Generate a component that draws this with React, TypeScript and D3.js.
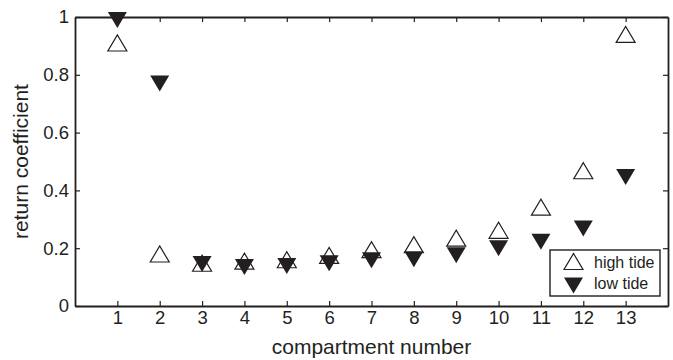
import * as d3 from 'd3';
import { useEffect, useRef } from 'react';

const compartments = [1, 2, 3, 4, 5, 6, 7, 8, 9, 10, 11, 12, 13];
const highTide = [0.91, 0.18, 0.148, 0.155, 0.16, 0.175, 0.195, 0.212, 0.235, 0.262, 0.342, 0.468, 0.94];
const lowTide = [0.99, 0.77, 0.145, 0.135, 0.138, 0.148, 0.158, 0.162, 0.176, 0.2, 0.222, 0.268, 0.446];
const yTicks = [0, 0.2, 0.4, 0.6, 0.8, 1];
const legendLabels = ['high tide', 'low tide'];

const INK = '#231f20';

export default function App() {
  const ref = useRef<SVGSVGElement | null>(null);
  useEffect(() => {
    if (!ref.current) return;
    const svg = d3.select(ref.current);
    svg.selectAll('*').remove();
    const width = 673;
    const height = 360;
    const margin = { top: 17, right: 5, bottom: 54, left: 75 };
    const x0 = margin.left;
    const x1 = width - margin.right;
    const y0 = height - margin.bottom;
    const y1 = margin.top;
    svg.attr('viewBox', `0 0 ${width} ${height}`);

    const x = d3.scaleLinear().domain([0, 14]).range([x0, x1]);
    const y = d3.scaleLinear().domain([0, 1]).range([y0, y1]);

    const font = 'Liberation Sans, Arial, Helvetica, sans-serif';
    const styleAxis = (g: any, labels: boolean) => {
      g.select('.domain').attr('stroke', INK).attr('stroke-width', 1.8);
      g.selectAll('.tick line').attr('stroke', INK).attr('stroke-width', 1.2);
      g.selectAll('.tick text')
        .attr('fill', INK)
        .style('font-family', font)
        .style('font-size', '18.5px')
        .style('display', labels ? null : 'none');
    };

    svg
      .append('g')
      .attr('transform', `translate(0, ${y0})`)
      .call(d3.axisBottom(x).tickValues(compartments).tickFormat(d3.format('d')).tickSizeInner(-5).tickSizeOuter(0).tickPadding(5))
      .call((g: any) => styleAxis(g, true));
    svg
      .append('g')
      .attr('transform', `translate(0, ${y1})`)
      .call(d3.axisTop(x).tickValues(compartments).tickSizeInner(-5).tickSizeOuter(0))
      .call((g: any) => styleAxis(g, false));
    svg
      .append('g')
      .attr('transform', `translate(${x0}, 0)`)
      .call(d3.axisLeft(y).tickValues(yTicks).tickFormat((d: any) => (d === 0 || d === 1 ? String(d) : d3.format('.1f')(d))).tickSizeInner(-5).tickSizeOuter(0).tickPadding(6))
      .call((g: any) => styleAxis(g, true));
    svg
      .append('g')
      .attr('transform', `translate(${x1}, 0)`)
      .call(d3.axisRight(y).tickValues(yTicks).tickSizeInner(-5).tickSizeOuter(0))
      .call((g: any) => styleAxis(g, false));

    const tw = 19;
    const th = 16;
    const up = (cx: number, cy: number) =>
      `M${cx - tw / 2},${cy + th / 2}L${cx + tw / 2},${cy + th / 2}L${cx},${cy - th / 2}Z`;
    const down = (cx: number, cy: number) =>
      `M${cx - tw / 2},${cy - th / 2}L${cx + tw / 2},${cy - th / 2}L${cx},${cy + th / 2}Z`;

    svg
      .append('g')
      .selectAll('path')
      .data(compartments)
      .enter()
      .append('path')
      .attr('d', (d, i) => down(x(d), y(lowTide[i])))
      .attr('fill', INK);

    svg
      .append('g')
      .selectAll('path')
      .data(compartments)
      .enter()
      .append('path')
      .attr('d', (d, i) => up(x(d), y(highTide[i])))
      .attr('fill', 'none')
      .attr('stroke', INK)
      .attr('stroke-width', 1.2);

    // legend
    const lg = svg.append('g');
    lg.append('rect')
      .attr('x', 550)
      .attr('y', 250)
      .attr('width', 110)
      .attr('height', 46)
      .attr('fill', 'white')
      .attr('stroke', INK)
      .attr('stroke-width', 1.4);
    lg.append('path').attr('d', up(573.5, 261.5)).attr('fill', 'none').attr('stroke', INK).attr('stroke-width', 1.2);
    lg.append('path').attr('d', down(573.5, 285.5)).attr('fill', INK);
    legendLabels.forEach((t, i) => {
      lg.append('text')
        .attr('x', 594)
        .attr('y', 267.5 + i * 21.5)
        .attr('fill', INK)
        .style('font-family', font)
        .style('font-size', '16px')
        .text(t);
    });

    svg
      .append('text')
      .attr('x', (x0 + x1) / 2)
      .attr('y', 354)
      .attr('text-anchor', 'middle')
      .attr('fill', INK)
      .style('font-family', font)
      .style('font-size', '21px')
      .text('compartment number');
    svg
      .append('text')
      .attr('transform', `translate(28, ${(y0 + y1) / 2}) rotate(-90)`)
      .attr('text-anchor', 'middle')
      .attr('fill', INK)
      .style('font-family', font)
      .style('font-size', '21px')
      .text('return coefficient');
  }, []);

  return (
    <svg
      ref={ref}
      width={673}
      height={360}
      style={{ position: 'absolute', left: 0, top: 0, background: 'white' }}
    />
  );
}
